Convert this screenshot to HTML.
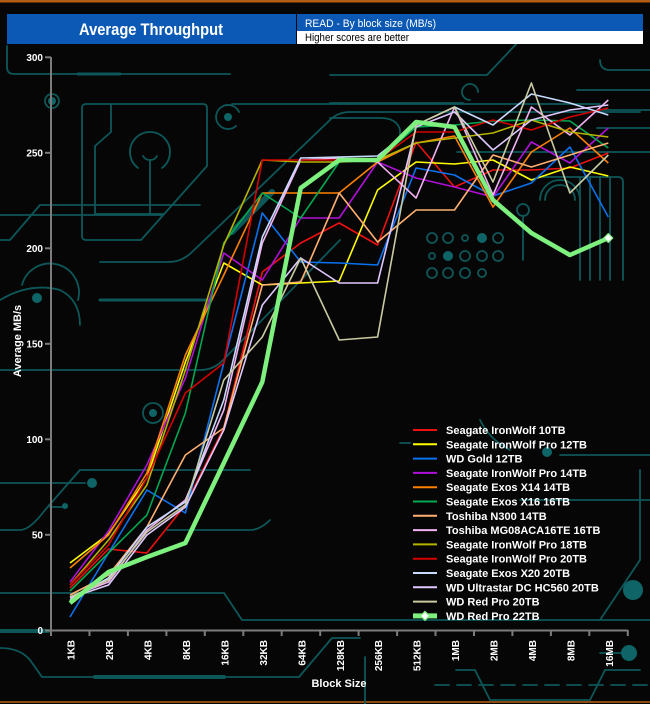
<!DOCTYPE html>
<html><head><meta charset="utf-8"><style>
html,body{margin:0;padding:0;background:#060606;}
svg{display:block;}
text{font-family:"Liberation Sans",Arial,sans-serif;}
</style></head><body>
<svg width="650" height="704" viewBox="0 0 650 704" xmlns="http://www.w3.org/2000/svg">
<rect width="650" height="704" fill="#060606"/>
<rect x="0" y="0" width="650" height="2.5" fill="#b35c12"/>
<rect x="0" y="701" width="650" height="2" fill="#8a4a10"/>

<!-- circuit board traces -->
<g fill="none" stroke="#0e5759" stroke-width="1.8" stroke-linecap="round" stroke-linejoin="round">
  <path d="M7,46 V67 Q7,74 14,74 H230"/>
  <path d="M78,74 H120" stroke-width="3"/>
  <circle cx="52" cy="101" r="7"/>
  <path d="M86,104 H203 Q207,104 207,108 V166 L141,240 H86 Q82,240 82,236 V108 Q82,104 86,104 Z"/>
  <path d="M111,104 V132 L95,146 V214 H163"/>
  <path d="M150,160 V214"/>
  <path d="M138,168 A20,20 0 1 1 162,168"/>
  <path d="M143,156 A8,8 0 0 0 157,156"/>
  <path d="M236,126 A12,12 0 1 1 239,112"/>
  <path d="M232,104 H600"/>
  <path d="M100,262 H168 Q182,262 192,252 L330,120 Q338,112 350,112 H640"/>
  <path d="M100,300 H210" stroke-width="3"/>
  <path d="M232,232 L272,192" stroke-width="6"/>
  <path d="M0,300 Q30,282 60,290 Q80,300 80,325"/>
  <path d="M22,285 A28,28 0 0 1 78,300"/>
  <path d="M0,370 H200 Q215,370 225,358 L340,240"/>
  <path d="M0,215 H163 M0,240 H10 L40,205 H200"/>
  <path d="M0,483 H85"/>
  <path d="M50,507 H65 M0,530 H20 Q30,530 45,510 L80,470 H250"/>
  <path d="M167,530 H250 Q260,530 270,520"/>
  <path d="M0,593 H224 L242,620 H650"/>
  <path d="M0,648 Q20,648 30,660 L42,677 H299 L332,638 H360"/>
  <path d="M95,677 H224" stroke-width="4"/>
  <path d="M0,631 H48" stroke-width="4"/>
  <path d="M365,657 V704"/>
  <path d="M435,685 H647" stroke-dasharray="14 8"/>
  <path d="M456,670 H475 L490,700 H590 L605,670 H640"/>
  <path d="M330,75 H487 L520,40 M330,103 H463"/>
  <path d="M330,118 H380 Q397,118 400,130 V140"/>
  <path d="M457,152 H650 M597,128 H650 M597,110 H650 M577,90 H650"/>
  <path d="M600,60 Q600,70 610,70 H650"/>
  <path d="M470,100 A8,8 0 1 1 478,92"/>
  <path d="M540,177 H618 Q623,177 623,182 V280"/>
  <path d="M580,177 V280 M590,177 V280 M600,177 V280 M610,177 V280"/>
  <path d="M545,200 A15,15 0 0 1 575,200 M540,200 A20,20 0 0 1 580,200"/>
  <path d="M523,216 V260"/>
  <circle cx="523" cy="210" r="6"/>
  <circle cx="432" cy="238" r="5"/><circle cx="448" cy="238" r="5"/><circle cx="465" cy="238" r="3"/><circle cx="498" cy="238" r="5"/>
  <circle cx="432" cy="256" r="3"/><circle cx="465" cy="256" r="5"/><circle cx="482" cy="256" r="5"/><circle cx="498" cy="256" r="5"/>
  <circle cx="432" cy="273" r="5"/><circle cx="448" cy="273" r="5"/><circle cx="465" cy="273" r="5"/><circle cx="482" cy="273" r="4"/>
  <circle cx="153" cy="413" r="10"/>
  <path d="M400,443 H410 M560,455 H650 M520,500 H650 M480,420 Q490,440 510,450"/>
  <path d="M625,653 H600 M600,620 L640,560 V470"/>
</g>
<g fill="#0e6466">
  <circle cx="52" cy="101" r="4"/>
  <circle cx="228" cy="117" r="4"/>
  <circle cx="37" cy="298" r="5"/>
  <circle cx="92" cy="483" r="5"/>
  <circle cx="65" cy="506" r="3"/>
  <circle cx="153" cy="413" r="4"/>
  <circle cx="482" cy="238" r="5"/>
  <circle cx="448" cy="256" r="5"/>
  <circle cx="633" cy="590" r="10"/>
  <circle cx="629" cy="653" r="8"/>
  <circle cx="547" cy="452" r="5"/>
</g>

<!-- header -->
<rect x="7" y="14" width="289" height="30" fill="#0b59b5"/>
<text x="151" y="35" font-size="17" font-weight="bold" fill="#ffffff" text-anchor="middle" textLength="144" lengthAdjust="spacingAndGlyphs">Average Throughput</text>
<rect x="297" y="14" width="346" height="17" fill="#0b59b5"/>
<rect x="297" y="31" width="346" height="13" fill="#ffffff"/>
<text x="305" y="27" font-size="11" fill="#ffffff" textLength="131" lengthAdjust="spacingAndGlyphs">READ - By block size (MB/s)</text>
<text x="305" y="41" font-size="11" fill="#000000" textLength="104" lengthAdjust="spacingAndGlyphs">Higher scores are better</text>

<!-- axes -->
<g stroke="#7c7c7c" stroke-width="2" fill="none">
  <line x1="51" y1="57" x2="51" y2="631"/>
  <line x1="45" y1="630.5" x2="628" y2="630.5"/>
  <line x1="45" y1="57.3" x2="51" y2="57.3"/>
  <line x1="45" y1="152.8" x2="51" y2="152.8"/>
  <line x1="45" y1="248.3" x2="51" y2="248.3"/>
  <line x1="45" y1="343.8" x2="51" y2="343.8"/>
  <line x1="45" y1="439.3" x2="51" y2="439.3"/>
  <line x1="45" y1="534.8" x2="51" y2="534.8"/>
  <path d="M51,630 V636 M89.5,630 V636 M127.9,630 V636 M166.4,630 V636 M204.8,630 V636 M243.3,630 V636 M281.7,630 V636 M320.2,630 V636 M358.6,630 V636 M397.1,630 V636 M435.5,630 V636 M474,630 V636 M512.4,630 V636 M550.9,630 V636 M589.3,630 V636 M627.8,630 V636"/>
</g>
<g font-size="10" font-weight="bold" fill="#ffffff" text-anchor="end">
  <text x="43" y="61">300</text>
  <text x="43" y="156.5">250</text>
  <text x="43" y="252">200</text>
  <text x="43" y="347.5">150</text>
  <text x="43" y="443">100</text>
  <text x="43" y="538.5">50</text>
  <text x="43" y="634">0</text>
</g>
<g font-size="10" font-weight="bold" fill="#ffffff" text-anchor="end">
  <text transform="translate(74.6,640) rotate(-90)">1KB</text>
  <text transform="translate(113.1,640) rotate(-90)">2KB</text>
  <text transform="translate(151.5,640) rotate(-90)">4KB</text>
  <text transform="translate(190,640) rotate(-90)">8KB</text>
  <text transform="translate(228.4,640) rotate(-90)">16KB</text>
  <text transform="translate(266.9,640) rotate(-90)">32KB</text>
  <text transform="translate(305.3,640) rotate(-90)">64KB</text>
  <text transform="translate(343.8,640) rotate(-90)">128KB</text>
  <text transform="translate(382.2,640) rotate(-90)">256KB</text>
  <text transform="translate(420.7,640) rotate(-90)">512KB</text>
  <text transform="translate(459.1,640) rotate(-90)">1MB</text>
  <text transform="translate(497.6,640) rotate(-90)">2MB</text>
  <text transform="translate(536,640) rotate(-90)">4MB</text>
  <text transform="translate(574.5,640) rotate(-90)">8MB</text>
  <text transform="translate(612.9,640) rotate(-90)">16MB</text>
</g>
<text x="339" y="687" font-size="11" font-weight="bold" fill="#ffffff" text-anchor="middle">Block Size</text>
<text transform="translate(21,341) rotate(-90)" font-size="11" font-weight="bold" fill="#ffffff" text-anchor="middle">Average MB/s</text>

<!-- series -->
<g fill="none" stroke-width="1.6" stroke-linejoin="round">
  <polyline stroke="#ee1111" points="70,588 108.5,549 146.9,553 185.4,505 223.8,428 262.3,272 300.7,243 339.2,223 377.6,245 416.1,142 454.5,187 493,170 531.4,170 569.9,168 608.3,153"/>
  <polyline stroke="#ffff00" points="70,563 108.5,534 146.9,478 185.4,362 223.8,263 262.3,285 300.7,283 339.2,281 377.6,190 416.1,162 454.5,164 493,160 531.4,180 569.9,167 608.3,176"/>
  <polyline stroke="#0a72f0" points="70,617 108.5,553 146.9,490 185.4,513 223.8,363 262.3,213 300.7,262 339.2,263 377.6,265 416.1,168 454.5,175 493,196 531.4,183 569.9,147 608.3,217"/>
  <polyline stroke="#b010d8" points="70,582 108.5,531 146.9,465 185.4,378 223.8,253 262.3,280 300.7,218 339.2,218 377.6,162 416.1,178 454.5,187 493,197 531.4,142 569.9,163 608.3,128"/>
  <polyline stroke="#ff8000" points="70,568 108.5,535 146.9,473 185.4,355 223.8,275 262.3,193 300.7,193 339.2,193 377.6,162 416.1,143 454.5,136 493,207 531.4,152 569.9,128 608.3,163"/>
  <polyline stroke="#00a850" points="70,591 108.5,553 146.9,515 185.4,413 223.8,243 262.3,193 300.7,218 339.2,162 377.6,160 416.1,127 454.5,125 493,121 531.4,120 569.9,121 608.3,148"/>
  <polyline stroke="#ffb070" points="70,595 108.5,575 146.9,527 185.4,455 223.8,428 262.3,285 300.7,282 339.2,193 377.6,242 416.1,210 454.5,210 493,155 531.4,167 569.9,155 608.3,143"/>
  <polyline stroke="#f2b2f2" points="70,597 108.5,582 146.9,530 185.4,500 223.8,410 262.3,243 300.7,160 339.2,158 377.6,162 416.1,198 454.5,107 493,195 531.4,107 569.9,135 608.3,100"/>
  <polyline stroke="#b4b400" points="70,585 108.5,540 146.9,485 185.4,370 223.8,245 262.3,160 300.7,162 339.2,162 377.6,160 416.1,143 454.5,138 493,133 531.4,120 569.9,132 608.3,137"/>
  <polyline stroke="#d40000" points="70,585 108.5,545 146.9,478 185.4,393 223.8,363 262.3,160 300.7,160 339.2,160 377.6,160 416.1,132 454.5,132 493,120 531.4,130 569.9,117 608.3,108"/>
  <polyline stroke="#c8dcff" points="70,600 108.5,578 146.9,527 185.4,502 223.8,400 262.3,237 300.7,158 339.2,157 377.6,156 416.1,125 454.5,107 493,125 531.4,94 569.9,103 608.3,115"/>
  <polyline stroke="#e0c8ff" points="70,598 108.5,585 146.9,535 185.4,507 223.8,430 262.3,305 300.7,258 339.2,283 377.6,283 416.1,127 454.5,112 493,150 531.4,120 569.9,110 608.3,105"/>
  <polyline stroke="#cacaa2" points="70,597 108.5,580 146.9,532 185.4,505 223.8,380 262.3,337 300.7,258 339.2,340 377.6,337 416.1,125 454.5,107 493,182 531.4,83 569.9,193 608.3,155"/>
  <polyline stroke="#7ef07e" stroke-width="4.5" points="70,603 108.5,572 146.9,557 185.4,543 223.8,463 262.3,382 300.7,188 339.2,160 377.6,160 416.1,122 454.5,127 493,200 531.4,233 569.9,255 608.3,238"/>
  <path d="M608.3,233.5 L612.8,238 L608.3,242.5 L603.8,238 Z" fill="#ffffff" stroke="#7ef07e" stroke-width="1.2"/>
</g>

<!-- legend -->
<g stroke-width="2">
  <line x1="413" y1="430" x2="437" y2="430" stroke="#ee1111"/>
  <line x1="413" y1="444.3" x2="437" y2="444.3" stroke="#ffff00"/>
  <line x1="413" y1="458.6" x2="437" y2="458.6" stroke="#0a72f0"/>
  <line x1="413" y1="472.9" x2="437" y2="472.9" stroke="#b010d8"/>
  <line x1="413" y1="487.2" x2="437" y2="487.2" stroke="#ff8000"/>
  <line x1="413" y1="501.5" x2="437" y2="501.5" stroke="#00a850"/>
  <line x1="413" y1="515.8" x2="437" y2="515.8" stroke="#ffb070"/>
  <line x1="413" y1="530.1" x2="437" y2="530.1" stroke="#f2b2f2"/>
  <line x1="413" y1="544.4" x2="437" y2="544.4" stroke="#b4b400"/>
  <line x1="413" y1="558.7" x2="437" y2="558.7" stroke="#d40000"/>
  <line x1="413" y1="573" x2="437" y2="573" stroke="#c8dcff"/>
  <line x1="413" y1="587.3" x2="437" y2="587.3" stroke="#e0c8ff"/>
  <line x1="413" y1="601.6" x2="437" y2="601.6" stroke="#cacaa2"/>
  <line x1="413" y1="615.9" x2="437" y2="615.9" stroke="#7ef07e" stroke-width="5"/>
</g>
<path d="M425,611.4 L429.5,615.9 L425,620.4 L420.5,615.9 Z" fill="#ffffff" stroke="#7ef07e" stroke-width="1.2"/>
<g font-size="11" font-weight="bold" fill="#ffffff">
  <text x="446" y="434">Seagate IronWolf 10TB</text>
  <text x="446" y="448.3">Seagate IronWolf Pro 12TB</text>
  <text x="446" y="462.6">WD Gold 12TB</text>
  <text x="446" y="476.9">Seagate IronWolf Pro 14TB</text>
  <text x="446" y="491.2">Seagate Exos X14 14TB</text>
  <text x="446" y="505.5">Seagate Exos X16 16TB</text>
  <text x="446" y="519.8">Toshiba N300 14TB</text>
  <text x="446" y="534.1">Toshiba MG08ACA16TE 16TB</text>
  <text x="446" y="548.4">Seagate IronWolf Pro 18TB</text>
  <text x="446" y="562.7">Seagate IronWolf Pro 20TB</text>
  <text x="446" y="577">Seagate Exos X20 20TB</text>
  <text x="446" y="591.3">WD Ultrastar DC HC560 20TB</text>
  <text x="446" y="605.6">WD Red Pro 20TB</text>
  <text x="446" y="619.9">WD Red Pro 22TB</text>
</g>
</svg>
</body></html>
